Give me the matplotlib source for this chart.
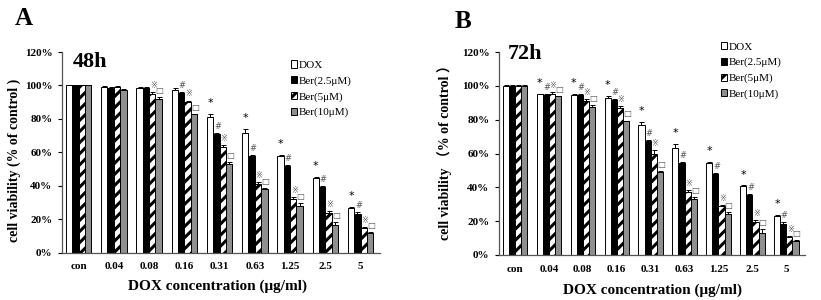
import matplotlib
matplotlib.use("Agg")
import matplotlib.pyplot as plt
import numpy as np

plt.rcParams['font.family'] = ['Liberation Serif', 'Noto Sans CJK SC', 'DejaVu Sans']
plt.rcParams['hatch.linewidth'] = 2.2

# ---- data ----
concs = ['con', '0.04', '0.08', '0.16', '0.31', '0.63', '1.25', '2.5', '5']
series = ['DOX', 'Ber(2.5μM)', 'Ber(5μM)', 'Ber(10μM)']

# 48h
dox_48 = [100, 99.3, 98.5, 97.5, 81, 71.5, 58, 44.7, 26.8]
ber25_48 = [100, 98.5, 98.5, 95.4, 71, 58, 52, 39.4, 22.9]
ber5_48 = [100, 99.0, 94.6, 90, 63, 41, 32.4, 23.9, 14.5]
ber10_48 = [100, 97.5, 92, 82.7, 53, 37.8, 28, 16.5, 11.6]
err_48 = [[0.3, 0.3, 0.3, 1.2, 2.0, 2.5, 0.5, 0.5, 0.8],
          [0.3, 0.3, 0.3, 0.5, 0.5, 0.5, 0.5, 0.5, 1.5],
          [0.3, 0.8, 1.5, 1.0, 1.5, 1.0, 1.0, 1.0, 0.8],
          [0.3, 0.5, 1.0, 0.5, 1.0, 1.0, 1.5, 2.0, 0.8]]

# 72h
dox_72 = [100, 95.1, 94.7, 93, 76.9, 63.3, 54.5, 40.6, 23.1]
ber25_72 = [100, 94.5, 94.7, 91.8, 67.6, 54.5, 48, 35.7, 18.2]
ber5_72 = [100, 95, 91, 86.9, 59.8, 37.3, 28.8, 19.6, 10.4]
ber10_72 = [100, 93.7, 87.6, 79, 49, 33.3, 24.1, 13.1, 8.2]
err_72 = [[0.3, 0.3, 0.3, 1.2, 2.0, 2.5, 0.5, 0.5, 0.5],
          [0.3, 0.5, 0.3, 0.5, 0.5, 0.5, 0.5, 0.5, 1.5],
          [0.3, 1.5, 1.2, 1.0, 2.0, 1.0, 1.0, 1.0, 1.0],
          [0.3, 0.5, 1.0, 0.5, 0.5, 1.0, 1.5, 2.0, 0.5]]

# significance marks: which groups get which symbol
marks_48 = [
    [False, False, False, False, True, True, True, True, True],   # *
    [False, False, False, True, True, True, True, True, True],    # #
    [False, False, True, True, True, True, True, True, True],     # ※
    [False, False, True, True, True, True, True, True, True],     # □
]
marks_72 = [
    [False, True, True, True, True, True, True, True, True],
    [False, True, True, True, True, True, True, True, True],
    [False, True, True, True, True, True, True, True, True],
    [False, True, True, True, True, True, True, True, True],
]
symbols = ['*', '#', '※', '□']

fig = plt.figure(figsize=(8.21, 3.0), dpi=100)


def draw_panel(ax, vals, errs, marks, title, letter, letter_xy, title_xy,
               legend_anchor, ylab_xy, xlab_xy, ylabel):
    x = np.arange(len(concs))
    w = 0.18
    offs = [-0.27, -0.09, 0.09, 0.27]
    styles = [dict(color='white', hatch=None),
              dict(color='black', hatch=None),
              dict(color='white', hatch='///'),
              dict(color='#8f8f8f', hatch=None)]
    for i in range(4):
        st = styles[i]
        ax.bar(x + offs[i], vals[i], width=w, color=st['color'],
               edgecolor='black', linewidth=0.7, hatch=st['hatch'],
               label=series[i], zorder=2)
        ax.errorbar(x + offs[i], vals[i],
                    yerr=[np.zeros(len(concs)), errs[i]],
                    fmt='none', ecolor='black', elinewidth=0.7, capsize=1.8,
                    capthick=0.7, zorder=3)
        for j in range(len(concs)):
            if marks[i][j]:
                col = 'black' if i == 0 else '#555555'
                fs = 8 if i == 0 else 6
                dy = 3.5 if i == 0 else 1.2
                ax.text(x[j] + offs[i] + (0.03 if i else 0),
                        vals[i][j] + errs[i][j] + dy,
                        symbols[i], ha='center', va='bottom', fontsize=fs,
                        color=col, family=['DejaVu Sans'])

    ax.set_xlim(-0.47, 8.55)
    ax.set_ylim(0, 120)
    ax.set_yticks([0, 20, 40, 60, 80, 100, 120])
    ax.set_yticklabels(['%d%%' % v for v in [0, 20, 40, 60, 80, 100, 120]],
                       fontsize=8, fontweight='bold')
    ax.set_xticks(x)
    ax.set_xticklabels(concs, fontsize=8, fontweight='bold')
    ax.tick_params(axis='x', length=0, pad=7)
    ax.tick_params(axis='y', length=3, width=0.8, pad=4, direction='out')
    for s in ['top', 'right']:
        ax.spines[s].set_visible(False)
    for s in ['left', 'bottom']:
        ax.spines[s].set_color('#555555')
        ax.spines[s].set_linewidth(0.9)

    ax.set_ylabel(ylabel, fontsize=10, fontweight='bold')
    ax.yaxis.set_label_coords(*ylab_xy)
    ax.set_xlabel('DOX concentration (μg/ml)', fontsize=11, fontweight='bold')
    ax.xaxis.set_label_coords(*xlab_xy)

    ax.text(title_xy[0], title_xy[1], title, transform=ax.transAxes,
            fontsize=16, fontweight='bold', ha='left', va='center')
    fig.text(letter_xy[0], letter_xy[1], letter, fontsize=18,
             fontweight='bold', ha='left', va='center')

    ax.legend(loc='upper left', bbox_to_anchor=legend_anchor,
              frameon=False, fontsize=8, handlelength=0.6,
              handleheight=0.6, handletextpad=0.15, labelspacing=0.55,
              borderaxespad=0)


axA = fig.add_axes([62 / 821, 1 - 252.7 / 300, 318 / 821, 200.7 / 300])
draw_panel(axA, [dox_48, ber25_48, ber5_48, ber10_48], err_48, marks_48,
           '48h', 'A', (15 / 821, 1 - 18.5 / 300), (0.035, 0.95),
           (0.705, 0.98), (-0.13, 0.46), (0.49, -0.135),
           'cell viability (% of control )')

axB = fig.add_axes([499 / 821, 1 - 255 / 300, 306 / 821, 203 / 300])
draw_panel(axB, [dox_72, ber25_72, ber5_72, ber10_72], err_72, marks_72,
           '72h', 'B', (455 / 821, 1 - 21 / 300), (0.03, 0.99),
           (0.71, 1.07), (-0.155, 0.52), (0.5, -0.14),
           'cell viability \uff08% of control \uff09')

fig.savefig('out.png', dpi=100)
